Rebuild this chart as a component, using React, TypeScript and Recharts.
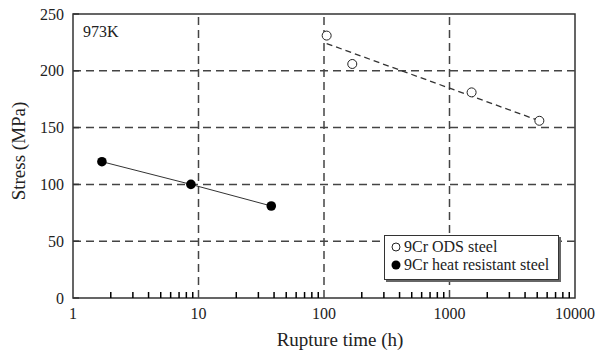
/* Creep rupture chart: stress vs rupture time (log), 973K */

import React from "react";
import {
  ScatterChart,
  Scatter,
  XAxis,
  YAxis,
  ReferenceLine,
  ReferenceArea,
} from "recharts";

const decadeTicks = [1, 10, 100, 1000, 10000];
const minorSteps = [2, 3, 4, 5, 6, 7, 8, 9];
const minorTicks = decadeTicks.slice(0, 4).flatMap((d) => minorSteps.map((m) => m * d));
const yTicks = [0, 50, 100, 150, 200, 250];
const gridX = [10, 100, 1000];
const gridY = [50, 100, 150, 200];

// 9Cr ODS steel (open circles) + fitted line
const odsTime = [105, 168, 1500, 5200];
const odsStress = [231, 206, 181, 156];
const odsFitTime = [105, 5200];
const odsFitStress = [224, 156];

// 9Cr heat resistant steel (filled circles)
const ferTime = [1.7, 8.7, 38];
const ferStress = [120, 100, 81];

const odsData = odsTime.map((t, i) => ({ t, s: odsStress[i] }));
const odsFit = odsFitTime.map((t, i) => ({ t, s: odsFitStress[i] }));
const ferData = ferTime.map((t, i) => ({ t, s: ferStress[i] }));
const minorMarks = minorTicks.map((t) => ({ t, s: 0 }));

const FONT = '"Liberation Serif", "DejaVu Serif", "Times New Roman", Times, serif';
const INK = "#222";
const AXIS = "#333";

const XTick = (props: any) => {
  const { x, y, payload } = props;
  return (
    <text x={x} y={y + 21} textAnchor="middle" fontSize={16} fontFamily={FONT} fill={INK}>
      {payload.value}
    </text>
  );
};

const YTick = (props: any) => {
  const { x, y, payload } = props;
  return (
    <g>
      <path d={`M${x},${y}h6`} stroke={AXIS} strokeWidth={1.5} />
      <text x={x - 9} y={y + 5.5} textAnchor="end" fontSize={16} fontFamily={FONT} fill={INK}>
        {payload.value}
      </text>
    </g>
  );
};

const OpenDot = (p: any) => (
  <circle cx={p.cx} cy={p.cy} r={4.5} fill="#fff" stroke={INK} strokeWidth={1} />
);
const FilledDot = (p: any) => <circle cx={p.cx} cy={p.cy} r={4.8} fill="#000" />;
const NoDot = () => <g />;
// short inward tick mark on the bottom axis
const TickMark = (p: any) => (
  <path d={`M${p.cx},${p.cy}v-6`} stroke="#000" strokeWidth={1.5} fill="none" />
);

const LegendBox = () => (
  <div
    style={{
      position: "absolute",
      left: 384,
      top: 235,
      border: `1px solid ${AXIS}`,
      boxShadow: "2px 2px 0 #666",
      background: "#fff",
      padding: "2px 9px 5px 6px",
      fontFamily: FONT,
      fontSize: 16,
      lineHeight: "18px",
      color: INK,
      whiteSpace: "nowrap",
    }}
  >
    <div style={{ display: "flex", alignItems: "center" }}>
      <svg width={10} height={10} style={{ marginRight: 3 }}>
        <circle cx={5} cy={5} r={4} fill="#fff" stroke={INK} />
      </svg>
      9Cr ODS steel
    </div>
    <div style={{ display: "flex", alignItems: "center" }}>
      <svg width={10} height={10} style={{ marginRight: 3 }}>
        <circle cx={5} cy={5} r={4.5} fill="#000" />
      </svg>
      9Cr heat resistant steel
    </div>
  </div>
);

export default function App() {
  return (
    <div style={{ position: "absolute", left: 0, top: 0, width: 595, height: 355, background: "#fff" }}>
      <ScatterChart width={595} height={355} margin={{ top: 14, right: 20, bottom: 0, left: 13 }}>
        <XAxis
          dataKey="t"
          type="number"
          scale="log"
          domain={[1, 10000]}
          ticks={decadeTicks}
          interval={0}
          tickSize={0}
          tickMargin={0}
          tick={<XTick />}
          axisLine={false}
          height={57}
          label={{
            content: () => (
              <text x={340} y={346} textAnchor="middle" fontSize={19} fontFamily={FONT} fill={INK}>
                Rupture time (h)
              </text>
            ),
          }}
        />
        <YAxis
          dataKey="s"
          type="number"
          domain={[0, 250]}
          ticks={yTicks}
          interval={0}
          tickSize={0}
          tickMargin={0}
          tick={<YTick />}
          axisLine={false}
          width={60}
          label={{
            content: () => (
              <text
                transform="translate(25,151) rotate(-90)"
                textAnchor="middle"
                fontSize={19}
                fontFamily={FONT}
                fill={INK}
              >
                Stress (MPa)
              </text>
            ),
          }}
        />
        {gridX.map((v) => (
          <ReferenceLine key={`gx${v}`} x={v} stroke="#444" strokeWidth={1.5} strokeDasharray="8 5" />
        ))}
        {gridY.map((v) => (
          <ReferenceLine key={`gy${v}`} y={v} stroke="#444" strokeWidth={1.5} strokeDasharray="8 5" />
        ))}
        <ReferenceArea
          x1={1}
          x2={10000}
          y1={0}
          y2={250}
          fill="none"
          fillOpacity={0}
          stroke={AXIS}
          strokeWidth={1.5}
        />
        <Scatter data={minorMarks} shape={<TickMark />} isAnimationActive={false} />
        <Scatter
          data={odsFit}
          line={{ stroke: AXIS, strokeWidth: 1.3, strokeDasharray: "6 4" }}
          shape={<NoDot />}
          isAnimationActive={false}
        />
        <Scatter
          data={ferData}
          line={{ stroke: AXIS, strokeWidth: 1 }}
          shape={<FilledDot />}
          isAnimationActive={false}
        />
        <Scatter data={odsData} shape={<OpenDot />} isAnimationActive={false} />
      </ScatterChart>
      <LegendBox />
      <div
        style={{
          position: "absolute",
          left: 83,
          top: 24,
          fontFamily: FONT,
          fontSize: 16,
          lineHeight: 1,
          color: INK,
        }}
      >
        973K
      </div>
    </div>
  );
}
